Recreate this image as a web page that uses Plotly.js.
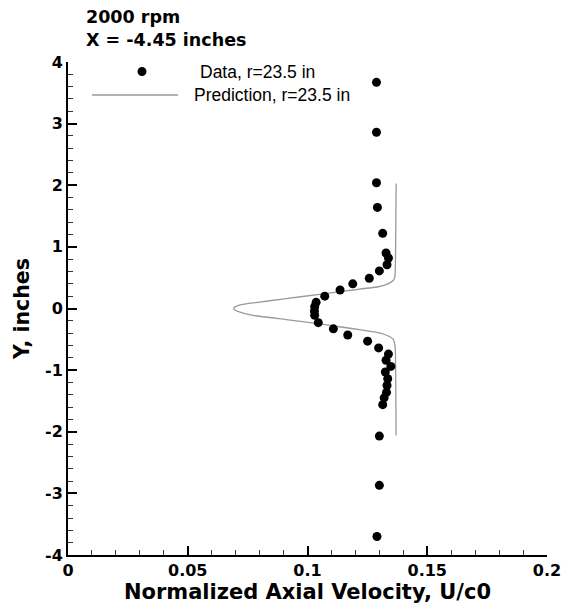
<!DOCTYPE html>
<html>
<head>
<meta charset="utf-8">
<script src="https://cdn.plot.ly/plotly-3.0.1.min.js"></script>
<style>html,body{margin:0;padding:0;background:#fff;}#chart{width:576px;height:604px;}</style>
</head>
<body>
<div id="chart"></div>
<script>
// Measured data, r=23.5 in
const dataX = [0.1288,0.1288,0.1288,0.1292,0.1314,0.1328,0.1338,0.1332,0.1300,0.1258,0.1189,0.1136,0.1072,0.1036,0.1030,0.1029,0.1030,0.1045,0.1108,0.1168,0.1251,0.1297,0.1338,0.1328,0.1348,0.1325,0.1335,0.1332,0.1330,0.1320,0.1314,0.1300,0.1300,0.1290];
const dataY = [3.67,2.86,2.04,1.64,1.22,0.90,0.82,0.71,0.61,0.49,0.40,0.30,0.20,0.10,0.03,-0.04,-0.11,-0.23,-0.33,-0.43,-0.53,-0.64,-0.74,-0.84,-0.94,-1.03,-1.14,-1.25,-1.36,-1.45,-1.56,-2.07,-2.87,-3.70];
// Prediction, r=23.5 in
const predX = [0.1370,0.1369,0.1368,0.1367,0.1366,0.1364,0.1358,0.1335,0.1300,0.1190,0.1130,0.1050,0.0911,0.0772,0.0712,0.0695,0.0692,0.0695,0.0712,0.0772,0.0911,0.1050,0.1140,0.1230,0.1300,0.1340,0.1358,0.1365,0.1367,0.1368,0.1369,0.1370];
const predY = [2.03,1.5,1.0,0.7,0.6,0.5,0.455,0.40,0.357,0.30,0.27,0.23,0.16,0.09,0.05,0.02,0.0,-0.02,-0.05,-0.11,-0.18,-0.25,-0.30,-0.35,-0.395,-0.45,-0.5,-0.6,-0.7,-1.0,-1.5,-2.06];
const xTickVals = [0, 0.05, 0.1, 0.15, 0.2];
const xTickText = ['0', '0.05', '0.1', '0.15', '0.2'];
const yTickVals = [-4, -3, -2, -1, 0, 1, 2, 3, 4];
const yTickText = ['-4', '-3', '-2', '-1', '0', '1', '2', '3', '4'];
const dataName = 'Data, r=23.5 in';
const predName = 'Prediction, r=23.5 in';
const titleLines = ['2000 rpm', 'X = -4.45 inches'];

const boldFont = {family: 'DejaVu Sans, sans-serif', color: '#000', weight: 'bold'};
const legFont = {family: 'Liberation Sans, Arial, sans-serif', size: 17.5, color: '#000'};

const traces = [
  {x: predX, y: predY, type: 'scatter', mode: 'lines', name: predName,
   line: {color: '#9a9a9a', width: 1.3, shape: 'spline', smoothing: 0.5}, showlegend: false, hoverinfo: 'skip'},
  {x: dataX, y: dataY, type: 'scatter', mode: 'markers', name: dataName,
   marker: {color: '#000', size: 9, symbol: 'circle'}, showlegend: false}
];

const W = 576, H = 604, L = 68, R = 29, T = 62, B = 49;
const pw = W - L - R, ph = H - T - B;
const px = v => (v - L) / pw;
const py = v => (H - B - v) / ph;

const layout = {
  width: W, height: H,
  margin: {l: L, r: R, t: T, b: B, pad: 0},
  paper_bgcolor: '#fff', plot_bgcolor: '#fff',
  showlegend: false,
  title: {text: titleLines.join('<br>'), font: Object.assign({}, boldFont, {size: 17.5}),
          x: 86 / W, xanchor: 'left', xref: 'container', y: 1 - 23 / H, yanchor: 'bottom', yref: 'container'},
  xaxis: {
    range: [0, 0.2], tickvals: xTickVals, ticktext: xTickText,
    showgrid: false, zeroline: false, showline: true, linecolor: '#000', linewidth: 2, mirror: false,
    ticks: 'inside', ticklen: 9, tickwidth: 2, tickcolor: '#000',
    minor: {ticks: 'inside', ticklen: 5, tickwidth: 1, tickcolor: '#333', dtick: 0.01, tick0: 0, showgrid: false},
    tickfont: Object.assign({}, boldFont, {size: 16}),
    title: {text: 'Normalized Axial Velocity, U/c0', font: Object.assign({}, boldFont, {size: 21}), standoff: 5},
    automargin: false, fixedrange: true
  },
  yaxis: {
    range: [-4, 4], tickvals: yTickVals, ticktext: yTickText,
    showgrid: false, zeroline: false, showline: true, linecolor: '#000', linewidth: 2, mirror: false,
    ticks: 'inside', ticklen: 9, tickwidth: 2, tickcolor: '#000',
    minor: {ticks: 'inside', ticklen: 5, tickwidth: 1, tickcolor: '#333', dtick: 0.2, tick0: 0, showgrid: false},
    tickfont: Object.assign({}, boldFont, {size: 16}),
    title: {text: 'Y, inches', font: Object.assign({}, boldFont, {size: 20.5}), standoff: 10},
    automargin: false, fixedrange: true
  },
  shapes: [
    {type: 'line', xref: 'paper', yref: 'paper', x0: px(92), x1: px(178), y0: py(95), y1: py(95),
     line: {color: '#9a9a9a', width: 1.3}},
    {type: 'circle', xref: 'paper', yref: 'paper', xsizemode: 'pixel', ysizemode: 'pixel',
     xanchor: px(142), yanchor: py(71.5), x0: -4.5, x1: 4.5, y0: -4.5, y1: 4.5,
     fillcolor: '#000', line: {color: '#000', width: 0}}
  ],
  annotations: [
    {text: dataName, xref: 'paper', yref: 'paper', x: px(198), y: py(71.5), xanchor: 'left', yanchor: 'middle',
     showarrow: false, font: legFont},
    {text: predName, xref: 'paper', yref: 'paper', x: px(192), y: py(95), xanchor: 'left', yanchor: 'middle',
     showarrow: false, font: legFont}
  ]
};

Plotly.newPlot('chart', traces, layout, {displayModeBar: false, staticPlot: true});
</script>
</body>
</html>
